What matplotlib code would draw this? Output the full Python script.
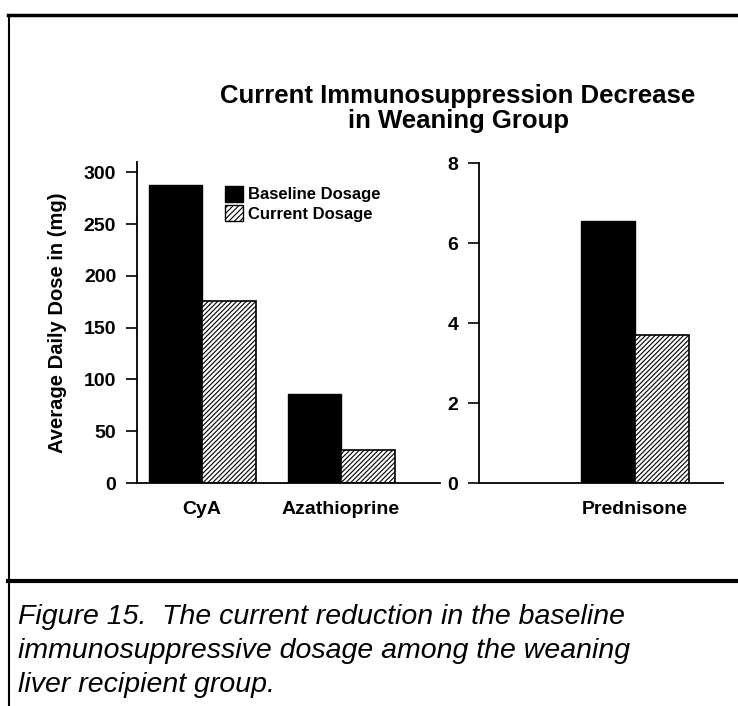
import matplotlib
matplotlib.use('Agg')
import matplotlib.pyplot as plt
from matplotlib.lines import Line2D
from matplotlib.patches import Patch

plt.rcParams['font.family'] = ['Liberation Sans', 'DejaVu Sans']
plt.rcParams['hatch.linewidth'] = 0.8

# Data
left_drugs = ['CyA', 'Azathioprine']
left_baseline = [288, 86]
left_current = [176, 32]
right_drugs = ['Prednisone']
right_baseline = [6.55]
right_current = [3.7]
left_yticks = [0, 50, 100, 150, 200, 250, 300]
right_yticks = [0, 2, 4, 6, 8]
series_names = ['Baseline Dosage', 'Current Dosage']
title_lines = ['Current Immunosuppression Decrease', 'in Weaning Group']
caption_lines = ['Figure 15.  The current reduction in the baseline',
                 'immunosuppressive dosage among the weaning',
                 'liver recipient group.']

W, H = 738, 706
fig = plt.figure(figsize=(W / 100, H / 100), dpi=100)


def px(x0, y0, x1, y1):
    """pixel box (top-left origin) -> figure fraction rect"""
    return [x0 / W, 1 - y1 / H, (x1 - x0) / W, (y1 - y0) / H]


def style_axes(ax, yticks):
    for side in ['top', 'right']:
        ax.spines[side].set_visible(False)
    for side in ['left', 'bottom']:
        ax.spines[side].set_linewidth(1.3)
    ax.set_yticks(yticks)
    ax.tick_params(axis='y', direction='out', length=8, width=1.2,
                   labelsize=14, pad=7)
    ax.tick_params(axis='x', length=0, labelsize=14, pad=13)
    for lbl in ax.get_yticklabels() + ax.get_xticklabels():
        lbl.set_fontweight('bold')


bw = 0.385
hatch_kw = dict(color='white', edgecolor='black', hatch='///////', linewidth=1.2)

# left panel: CyA and Azathioprine
ax1 = fig.add_axes(px(137, 162, 440, 483))
x1 = list(range(len(left_drugs)))
ax1.bar([x - bw / 2 for x in x1], left_baseline, bw, color='black',
        edgecolor='black', label=series_names[0])
ax1.bar([x + bw / 2 for x in x1], left_current, bw, label=series_names[1],
        **hatch_kw)
ax1.set_xlim(-0.468, 1.712)
ax1.set_ylim(0, 310)
ax1.set_xticks(x1)
ax1.set_xticklabels(left_drugs)
style_axes(ax1, left_yticks)
ax1.set_ylabel('Average Daily Dose in (mg)', fontsize=14.5, fontweight='bold',
               labelpad=12)

handles = [Patch(facecolor='black', edgecolor='black'),
           Patch(facecolor='white', edgecolor='black', hatch='//////')]
leg = ax1.legend(handles, series_names, loc='upper left',
                 bbox_to_anchor=((218 - 137) / 303, 1 - (179 - 162) / 321),
                 frameon=False, handlelength=1.1, handleheight=1.1,
                 handletextpad=0.3, labelspacing=0.15, borderaxespad=0,
                 prop={'size': 12, 'weight': 'bold'})

# right panel: Prednisone
ax2 = fig.add_axes(px(479, 163, 723, 483))
x2 = list(range(len(right_drugs)))
ax2.bar([x - bw / 2 for x in x2], right_baseline, bw, color='black',
        edgecolor='black')
ax2.bar([x + bw / 2 for x in x2], right_current, bw, **hatch_kw)
ax2.set_xlim(-1.122, 0.633)
ax2.set_ylim(0, 8)
ax2.set_xticks(x2)
ax2.set_xticklabels(right_drugs)
style_axes(ax2, right_yticks)

# title
fig.text(458 / W, 1 - 96 / H, title_lines[0], ha='center', va='center',
         fontsize=18.5, fontweight='bold')
fig.text(458 / W, 1 - 121 / H, title_lines[1], ha='center', va='center',
         fontsize=18.5, fontweight='bold')

# frame lines of the scanned page
fig.add_artist(Line2D([8 / W, 1], [1 - 15 / H, 1 - 15 / H], color='black', lw=2.5))
fig.add_artist(Line2D([9 / W, 9 / W], [0, 1 - 15 / H], color='black', lw=1.5))
fig.add_artist(Line2D([8 / W, 1], [1 - 581 / H, 1 - 581 / H], color='black', lw=3))

# caption
for i, line in enumerate(caption_lines):
    fig.text(18 / W, 1 - (617 + 34 * i) / H, line, ha='left', va='center',
             fontsize=20.5, style='italic')

fig.savefig('out.png', dpi=100)
